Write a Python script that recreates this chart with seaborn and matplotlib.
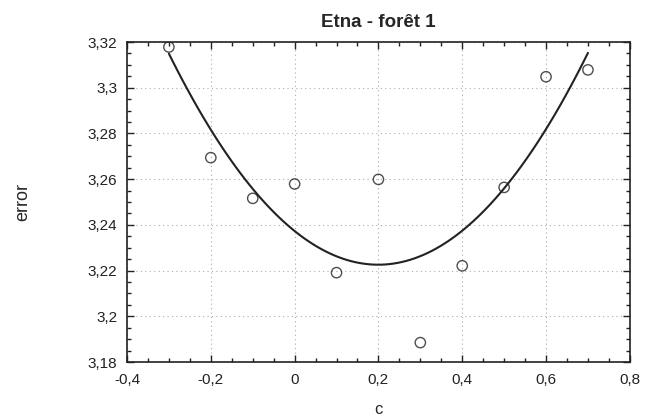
import seaborn as sns
import matplotlib.pyplot as plt
import matplotlib.ticker as mticker
import pandas as pd

# values
c_values = [-0.3, -0.2, -0.1, 0.0, 0.1, 0.2, 0.3, 0.4, 0.5, 0.6, 0.7]
error_values = [3.3178, 3.2694, 3.2516, 3.2579, 3.2191, 3.2599,
                3.1885, 3.2221, 3.2564, 3.3048, 3.3078]
title = "Etna - forêt 1"

sns.set_style("ticks")
plt.rcParams["font.family"] = ["Liberation Sans", "DejaVu Sans"]
plt.rcParams["axes.unicode_minus"] = False

df = pd.DataFrame({"c": c_values, "error": error_values})

fig = plt.figure(figsize=(6.46, 4.2), dpi=100)
ax = fig.add_axes([0.1966, 0.138, 0.7784, 0.762])

# quadratic fit + open circles
sns.regplot(data=df, x="c", y="error", order=2, ci=None, ax=ax,
            scatter_kws=dict(s=55, facecolors="none", edgecolors="#222222",
                             linewidths=1.0, zorder=3),
            line_kws=dict(color="#222222", lw=1.5, zorder=2))

ax.set_xlim(-0.4, 0.8)
ax.set_ylim(3.18, 3.32)
ax.xaxis.set_major_locator(mticker.MultipleLocator(0.2))
ax.xaxis.set_minor_locator(mticker.MultipleLocator(0.05))
ax.yaxis.set_major_locator(mticker.MultipleLocator(0.02))
ax.yaxis.set_minor_locator(mticker.MultipleLocator(0.005))

fmt = mticker.FuncFormatter(lambda v, p: ("%g" % round(v, 4)).replace(".", ","))
ax.xaxis.set_major_formatter(fmt)
ax.yaxis.set_major_formatter(fmt)

ax.grid(True, which="major", linestyle=(0, (1, 3)), color="#aaaaaa", lw=0.8)
ax.tick_params(which="both", direction="in", top=True, right=True,
               colors="#222222", labelsize=11, width=1)
ax.tick_params(which="major", length=5)
ax.tick_params(which="minor", length=3)
ax.tick_params(axis="x", which="major", pad=8)
ax.tick_params(axis="y", which="major", pad=7)
for sp in ax.spines.values():
    sp.set_linewidth(1.2)
    sp.set_color("#222222")

ax.set_title(title, fontsize=13.5, fontweight="bold", pad=11)
ax.set_xlabel("c", fontsize=12)
ax.set_ylabel("error", fontsize=13)
ax.xaxis.set_label_coords(0.5, -0.125)
ax.yaxis.set_label_coords(-0.207, 0.5)
ax.yaxis.label.set_va("center")

fig.savefig("out.png", dpi=100)
